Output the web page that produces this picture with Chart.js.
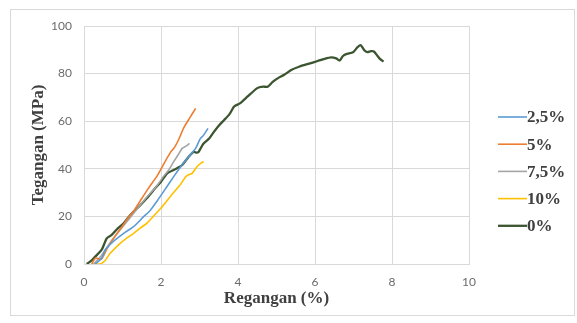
<!DOCTYPE html>
<html>
<head>
<meta charset="utf-8">
<script src="https://cdn.jsdelivr.net/npm/chart.js@4.4.1/dist/chart.umd.min.js"></script>
<style>
  html, body { margin: 0; padding: 0; background: #fff; }
  #wrap { position: relative; width: 577px; height: 323px; }
</style>
</head>
<body>
<div id="wrap"><canvas id="chart" width="577" height="323"></canvas></div>
<script>
// Regangan (%) vs Tegangan (MPa)
const labels = ['2,5%', '5%', '7,5%', '10%', '0%'];
const colors = ['#5B9BD5', '#ED7D31', '#A5A5A5', '#FFC000', '#3B5530'];

const strain25 = [0.29, 0.46, 0.55, 0.68, 0.81, 1.03, 1.29, 1.55, 1.72, 1.9, 2.07, 2.33, 2.51, 2.72, 2.9, 3.02, 3.1, 3.22];
const stress25 = [0, 2.4, 5.9, 8.2, 10.1, 12.9, 15.7, 19.9, 22.5, 26.5, 30.5, 36.7, 40.9, 45.1, 48.6, 52.7, 54, 57];

const strain5 = [0.2, 0.3, 0.45, 0.6, 0.8, 1.0, 1.15, 1.3, 1.5, 1.68, 1.9, 2.07, 2.25, 2.35, 2.45, 2.6, 2.75, 2.9];
const stress5 = [0, 2.5, 2, 6.5, 11.5, 16, 19.5, 22.5, 27.5, 32, 37, 42, 47, 49, 52, 57.5, 61.5, 65.4];

const strain75 = [0.25, 0.45, 0.7, 1.0, 1.3, 1.6, 1.9, 2.05, 2.2, 2.33, 2.45, 2.55, 2.65, 2.74];
const stress75 = [0, 3.5, 9.5, 15.5, 21.5, 27.5, 33, 36.5, 39.5, 43, 46, 48.6, 49.5, 50.7];

const strain10 = [0.2, 0.42, 0.55, 0.68, 0.94, 1.1, 1.29, 1.45, 1.63, 1.8, 2.0, 2.25, 2.51, 2.64, 2.72, 2.81, 2.94, 3.03, 3.11];
const stress10 = [0, 0, 1.5, 4.5, 8.7, 10.8, 12.9, 15, 17.1, 20, 23.5, 28.5, 33.5, 36.7, 37.5, 38.1, 41, 42.3, 43];

const strain0 = [0.07, 0.2, 0.29, 0.46, 0.59, 0.72, 0.85, 1.03, 1.15, 1.29, 1.45, 1.63, 1.81, 2.0, 2.16, 2.33, 2.45, 2.55, 2.72, 2.85, 2.92, 2.98, 3.1, 3.25, 3.35, 3.51, 3.64, 3.78, 3.9, 4.05, 4.25, 4.5, 4.65, 4.77, 4.9, 5.03, 5.2, 5.38, 5.6, 5.85, 6.07, 6.25, 6.42, 6.55, 6.64, 6.72, 6.81, 6.99, 7.1, 7.19, 7.28, 7.36, 7.45, 7.53, 7.62, 7.68, 7.78];
const stress0 = [0, 1.5, 3.1, 6, 10.8, 12.2, 14.5, 17.1, 19.5, 22, 24.5, 27.6, 31.1, 34.6, 38.1, 39.5, 40.5, 41.6, 45.1, 47.2, 46.8, 47.2, 50.5, 52.7, 55, 58.3, 60.5, 63, 66.2, 67.5, 70.4, 73.9, 74.5, 74.5, 76.5, 78, 79.5, 81.5, 83, 84.2, 85.3, 86.2, 86.8, 86.4, 85.5, 87.3, 88.2, 89, 91, 91.9, 89.8, 89, 89.4, 89.3, 87.5, 86.3, 85];

const xTicks = [0, 2, 4, 6, 8, 10];
const yTicks = [0, 20, 40, 60, 80, 100];

const pairs = (xs, ys) => xs.map((x, i) => ({ x, y: ys[i] }));
const seriesData = [
  pairs(strain25, stress25),
  pairs(strain5, stress5),
  pairs(strain75, stress75),
  pairs(strain10, stress10),
  pairs(strain0, stress0),
];

const serif = '"Liberation Serif", "DejaVu Serif", serif';
const sans = 'Lato, "Open Sans", sans-serif';

// frame around the chart plus legend on the right (line + label)
const sideLegend = {
  id: 'sideLegend',
  beforeDraw(chart) {
    const ctx = chart.ctx;
    ctx.save();
    ctx.strokeStyle = '#d9d9d9';
    ctx.lineWidth = 1;
    ctx.strokeRect(10.5, 9.5, 564, 306);
    ctx.restore();
  },
  afterDraw(chart) {
    const ctx = chart.ctx;
    ctx.save();
    ctx.font = 'bold 17px ' + serif;
    ctx.textBaseline = 'middle';
    chart.data.datasets.forEach((ds, i) => {
      const y = 117 + i * 27.2;
      ctx.strokeStyle = ds.borderColor;
      ctx.lineWidth = ds.borderWidth;
      ctx.beginPath();
      ctx.moveTo(498, y);
      ctx.lineTo(527, y);
      ctx.stroke();
      ctx.fillStyle = '#404040';
      ctx.fillText(ds.label, 527, y + 1);
    });
    ctx.restore();
  },
};

new Chart(document.getElementById('chart'), {
  type: 'scatter',
  data: {
    datasets: seriesData.map((d, i) => ({
      label: labels[i],
      data: d,
      showLine: true,
      borderColor: colors[i],
      backgroundColor: colors[i],
      borderWidth: i === 4 ? 2.3 : 1.6,
      pointRadius: 0,
      tension: 0.2,
    })),
  },
  options: {
    responsive: false,
    animation: false,
    layout: { padding: { left: 10, right: 108, top: 26, bottom: 14 } },
    plugins: { legend: { display: false }, tooltip: { enabled: false } },
    scales: {
      x: {
        type: 'linear',
        min: 0,
        max: 10,
        afterBuildTicks: (s) => { s.ticks = xTicks.map((v) => ({ value: v })); },
        afterFit: (s) => { s.height = 45; },
        ticks: { color: '#6b6b6b', font: { family: sans, size: 12 }, padding: 11 },
        grid: { color: '#d9d9d9', drawTicks: false },
        border: { color: '#d9d9d9' },
        title: {
          display: true,
          text: 'Regangan (%)',
          color: '#404040',
          font: { family: serif, size: 17, weight: 'bold' },
          padding: { top: 2, bottom: 0 },
        },
      },
      y: {
        min: 0,
        max: 100,
        afterBuildTicks: (s) => { s.ticks = yTicks.map((v) => ({ value: v })); },
        afterFit: (s) => { s.width = 74; },
        ticks: { color: '#6b6b6b', font: { family: sans, size: 12 }, padding: 12 },
        grid: { color: '#d9d9d9', drawTicks: false },
        border: { color: '#d9d9d9' },
        title: {
          display: true,
          text: 'Tegangan (MPa)',
          color: '#404040',
          font: { family: serif, size: 17, weight: 'bold' },
          padding: { top: 18, bottom: 6 },
        },
      },
    },
  },
  plugins: [sideLegend],
});
</script>
</body>
</html>
